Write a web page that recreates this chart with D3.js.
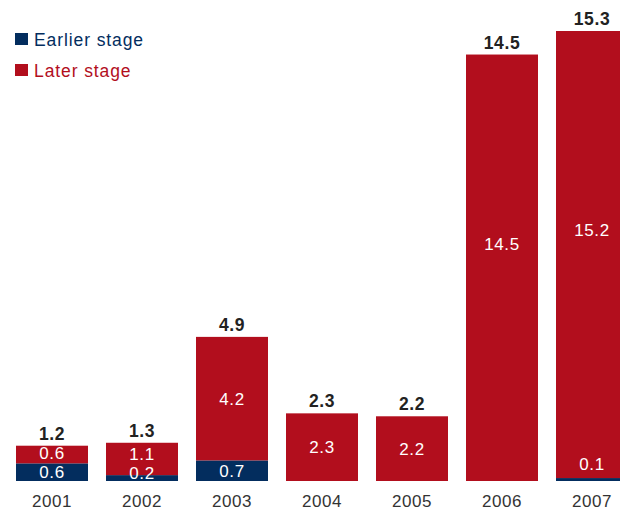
<!DOCTYPE html>
<html>
<head>
<meta charset="utf-8">
<script src="https://cdn.jsdelivr.net/npm/d3@7"></script>
<style>
  html, body { margin: 0; padding: 0; background: #fff; }
  svg { display: block; font-family: "Liberation Sans", Arial, sans-serif; }
</style>
</head>
<body>
<svg id="chart" width="620" height="511"></svg>
<script>
// Investment by stage, per year
const years = ["2001", "2002", "2003", "2004", "2005", "2006", "2007"];
const earlierStage = [0.6, 0.2, 0.7, 0, 0, 0, 0.1];
const laterStage = [0.6, 1.1, 4.2, 2.3, 2.2, 14.5, 15.2];
const totals = [1.2, 1.3, 4.9, 2.3, 2.2, 14.5, 15.3];
const seriesNames = ["Earlier stage", "Later stage"];

const NAVY = "#032d5e";
const RED = "#b20e1d";

const svg = d3.select("#chart");

const x = d3.scaleBand()
  .domain(years)
  .range([7, 637])
  .paddingInner(0.2)
  .paddingOuter(0.1);

const y = d3.scaleLinear()
  .domain([0, 15.3])
  .range([481, 31]);

const rows = years.map((yr, i) => ({
  year: yr,
  earlier: earlierStage[i],
  later: laterStage[i],
  total: totals[i]
}));

const stack = d3.stack().keys(["earlier", "later"]);
const layers = stack(rows);
const colors = { earlier: NAVY, later: RED };

// Stacked segments
const g = svg.append("g");
layers.forEach(layer => {
  g.selectAll(null)
    .data(layer.filter(d => d[1] - d[0] > 0))
    .join("rect")
    .attr("x", d => x(d.data.year))
    .attr("width", x.bandwidth())
    .attr("y", d => y(d[1]))
    .attr("height", d => y(d[0]) - y(d[1]))
    .attr("fill", colors[layer.key]);
});

// Values inside segments, placed bottom-up so labels never collide
const fmt = d3.format(".1f");
const LINE = 19;
const labels = [];
rows.forEach((row, i) => {
  let prev = Infinity;
  layers.forEach(layer => {
    const d = layer[i];
    const v = d[1] - d[0];
    if (v <= 0) return;
    const top = y(d[1]), bottom = y(d[0]);
    const h = bottom - top;
    let cy = (top + bottom) / 2;
    if (h < 5) cy = top - 14;               // sliver: lift label above it
    else if (h < 12) cy = bottom - 8;       // thin: keep label readable
    if (h > 200) cy -= h * 0.055;           // tall bars: label sits a bit high
    cy = Math.min(cy, prev - LINE);
    prev = cy;
    labels.push({ year: row.year, value: v, cy });
  });
});

g.selectAll(null)
  .data(labels)
  .join("text")
  .attr("x", d => x(d.year) + x.bandwidth() / 2)
  .attr("y", d => d.cy)
  .attr("dy", "0.36em")
  .attr("text-anchor", "middle")
  .attr("fill", "#fff")
  .attr("font-size", 17)
  .style("letter-spacing", "0.6px")
  .text(d => fmt(d.value));

// Totals above bars
g.selectAll(null)
  .data(rows)
  .join("text")
  .attr("x", d => x(d.year) + x.bandwidth() / 2)
  .attr("y", d => y(d.total) - 6)
  .attr("text-anchor", "middle")
  .attr("fill", "#222")
  .attr("font-size", 17.5)
  .attr("font-weight", "bold")
  .style("letter-spacing", "0.6px")
  .text(d => fmt(d.total));

// Year axis
const xAxis = svg.append("g")
  .attr("transform", "translate(0,481)")
  .call(d3.axisBottom(x).tickSize(0).tickPadding(0));
xAxis.select(".domain").remove();
xAxis.selectAll("text")
  .attr("y", 26)
  .attr("dy", 0)
  .attr("fill", "#333")
  .attr("font-size", 17)
  .attr("font-family", "Liberation Sans, Arial, sans-serif")
  .style("letter-spacing", "0.6px");

// Legend
const legend = svg.append("g");
const legendColors = [NAVY, RED];
seriesNames.forEach((name, i) => {
  const ly = 33 + i * 31;
  legend.append("rect")
    .attr("x", 15).attr("y", ly)
    .attr("width", 13).attr("height", 12)
    .attr("fill", legendColors[i]);
  legend.append("text")
    .attr("x", 34).attr("y", ly + 13)
    .attr("fill", legendColors[i])
    .attr("font-size", 17.5)
    .style("letter-spacing", "0.9px")
    .text(name);
});
</script>
</body>
</html>
